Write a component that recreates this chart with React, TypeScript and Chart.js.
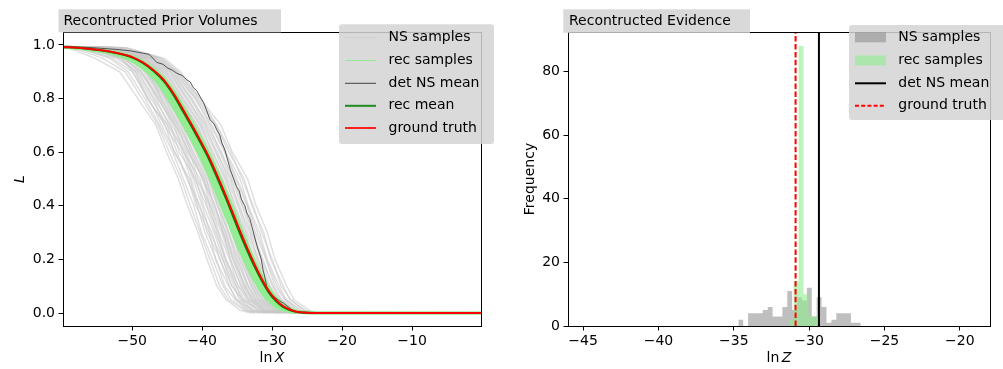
import React, { useEffect, useRef } from "react";
import { Chart, registerables } from "chart.js";

Chart.register(...registerables);

const FONT = "'DejaVu Sans', sans-serif";

// ---------------- Left panel data: Reconstructed Prior Volumes ----------------
const LEFT_X_MIN = -59.9;
const LEFT_X_MAX = -0.15;
const LEFT_Y_MIN = -0.0485;
const LEFT_Y_MAX = 1.0485;
const LEFT_X_TICKS = [-50, -40, -30, -20, -10];
const LEFT_Y_TICKS = [0, 0.2, 0.4, 0.6, 0.8, 1.0];

// NS sample curves: lnX at which each sample crosses these L levels
const NS_START_LNX = -59.9;
const NS_START_L = 0.995;
const NS_L_LEVELS = [0.99, 0.95, 0.9, 0.8, 0.7, 0.6, 0.5, 0.4, 0.3, 0.2, 0.1, 0.05, 0.01, 0];
const NS_SAMPLES_LNX: number[][] = [
  [-59.2, -55.3, -51.8, -49.2, -46.6, -45.1, -43.4, -42.1, -40.6, -39.3, -37.9, -36.6, -34.6, -33.0],
  [-58.0, -53.2, -50.6, -48.2, -46.1, -44.2, -42.7, -41.2, -40.1, -38.5, -37.0, -35.9, -33.7, -32.4],
  [-56.8, -51.6, -49.9, -47.6, -45.8, -43.9, -42.0, -40.9, -39.0, -38.1, -36.2, -35.0, -33.3, -31.6],
  [-58.0, -52.2, -49.5, -47.9, -45.0, -43.6, -42.2, -40.3, -39.3, -37.4, -36.1, -35.2, -32.8, -31.0],
  [-56.2, -51.9, -49.3, -47.0, -45.4, -42.9, -41.6, -40.5, -38.6, -37.5, -35.7, -34.4, -32.9, -31.2],
  [-55.5, -51.0, -49.1, -46.9, -44.5, -43.3, -40.9, -39.8, -38.3, -37.0, -35.8, -34.1, -32.3, -30.4],
  [-57.2, -51.3, -48.7, -46.6, -44.7, -42.4, -41.1, -39.4, -38.1, -36.6, -35.1, -34.3, -31.8, -30.5],
  [-56.0, -50.7, -48.6, -46.3, -44.0, -42.7, -40.3, -39.3, -37.7, -36.6, -34.8, -33.6, -32.0, -29.8],
  [-54.8, -50.4, -48.3, -46.4, -43.8, -41.8, -40.6, -38.8, -37.6, -36.1, -34.9, -33.3, -31.4, -29.9],
  [-55.8, -50.2, -48.0, -45.8, -43.9, -42.0, -39.9, -38.9, -37.2, -36.0, -34.4, -33.4, -31.2, -29.4],
  [-54.5, -50.6, -47.9, -45.5, -43.1, -41.6, -40.0, -38.1, -37.1, -35.6, -34.2, -32.9, -31.1, -29.1],
  [-56.5, -49.8, -47.7, -45.8, -43.3, -41.2, -39.4, -38.4, -36.6, -35.6, -33.8, -32.9, -30.7, -29.1],
  [-55.2, -49.9, -47.5, -45.1, -42.9, -41.3, -39.5, -37.8, -36.7, -35.2, -33.9, -32.5, -30.7, -28.7],
  [-54.0, -49.5, -47.4, -45.2, -42.6, -40.8, -39.0, -37.8, -36.2, -35.1, -33.4, -32.4, -30.2, -28.6],
  [-55.5, -49.9, -47.3, -44.8, -42.6, -40.6, -39.0, -37.4, -36.2, -34.7, -33.4, -32.0, -30.2, -28.2],
  [-53.8, -49.2, -46.9, -44.7, -42.1, -40.5, -38.5, -37.3, -35.7, -34.6, -32.9, -31.9, -29.7, -28.1],
  [-55.0, -49.0, -46.9, -44.4, -42.1, -40.0, -38.5, -36.9, -35.7, -34.2, -32.9, -31.5, -29.7, -27.7],
  [-54.2, -48.7, -46.5, -44.3, -41.8, -40.1, -38.1, -37.0, -35.2, -34.2, -32.5, -31.5, -29.3, -27.6],
  [-53.5, -48.8, -46.6, -43.9, -41.7, -39.6, -38.1, -36.5, -35.3, -33.8, -32.5, -31.1, -29.3, -27.2],
  [-54.6, -48.4, -46.1, -43.8, -41.2, -39.6, -37.6, -36.4, -34.8, -33.7, -32.0, -31.0, -28.8, -27.1],
  [-53.0, -48.3, -46.1, -43.4, -41.2, -39.2, -37.6, -36.0, -34.8, -33.3, -32.0, -30.6, -28.8, -26.7],
  [-54.0, -47.9, -45.7, -43.3, -40.7, -39.1, -37.1, -35.9, -34.3, -33.2, -31.5, -30.5, -28.3, -26.6],
  [-52.8, -48.2, -45.6, -42.9, -40.7, -38.7, -37.1, -35.5, -34.3, -32.8, -31.5, -30.1, -28.3, -26.2],
  [-53.6, -47.5, -45.2, -42.8, -40.2, -38.6, -36.6, -35.4, -33.8, -32.7, -31.0, -30.0, -27.8, -26.1],
  [-52.5, -47.6, -45.1, -42.3, -40.1, -38.1, -36.5, -34.9, -33.7, -32.2, -30.9, -29.5, -27.7, -25.6],
  [-53.2, -47.1, -44.6, -42.2, -39.6, -38.0, -36.0, -34.8, -33.2, -32.1, -30.4, -29.4, -27.2, -25.5],
  [-52.2, -47.1, -44.6, -41.7, -39.5, -37.5, -35.9, -34.3, -33.1, -31.6, -30.3, -28.9, -27.1, -25.0],
  [-52.8, -46.6, -44.2, -41.6, -39.0, -37.4, -35.4, -34.2, -32.6, -31.5, -29.8, -28.8, -26.6, -24.9],
  [-51.8, -46.6, -44.1, -41.0, -38.8, -36.8, -35.2, -33.6, -32.4, -30.9, -29.6, -28.2, -26.4, -24.3],
  [-52.0, -46.1, -43.7, -40.8, -38.2, -36.6, -34.6, -33.4, -31.8, -30.7, -29.0, -28.0, -25.8, -24.1],
  [-51.2, -45.9, -43.6, -40.3, -37.9, -35.9, -34.3, -32.7, -31.5, -30.0, -28.7, -27.3, -25.5, -23.4],
  [-50.8, -45.4, -43.1, -40.3, -37.3, -35.7, -33.5, -32.3, -30.7, -29.6, -27.9, -26.9, -24.7, -23.1],
  [-57.8, -52.8, -50.0, -47.8, -45.3, -44.0, -41.8, -40.7, -39.6, -38.0, -36.8, -35.3, -33.5, -31.9],
  [-56.3, -51.4, -49.6, -47.3, -44.9, -42.6, -41.3, -40.0, -38.9, -37.1, -35.4, -34.7, -32.6, -30.8],
  [-55.9, -51.1, -48.9, -46.1, -44.3, -42.2, -40.8, -39.0, -37.9, -36.8, -35.2, -33.9, -31.6, -30.1],
  [-54.6, -50.3, -48.1, -46.0, -43.6, -41.9, -39.8, -38.6, -37.0, -35.9, -34.5, -33.1, -31.3, -29.3],
  [-55.3, -50.0, -47.8, -45.3, -43.5, -41.5, -39.7, -38.2, -36.9, -35.4, -34.0, -32.7, -30.9, -28.9],
  [-54.4, -49.6, -47.1, -45.0, -42.8, -40.9, -39.2, -37.6, -36.4, -34.9, -33.6, -32.2, -30.4, -28.4],
  [-53.9, -49.4, -47.2, -44.6, -42.3, -40.3, -38.8, -37.1, -35.9, -34.4, -33.1, -31.8, -29.9, -27.9],
  [-54.9, -48.9, -46.7, -44.1, -42.0, -39.9, -38.3, -36.7, -35.5, -34.0, -32.7, -31.3, -29.5, -27.4],
  [-53.3, -48.6, -46.3, -43.6, -41.4, -39.4, -37.8, -36.2, -35.0, -33.5, -32.2, -30.8, -29.0, -26.9],
  [-53.7, -48.1, -45.9, -43.1, -40.9, -38.9, -37.3, -35.7, -34.5, -33.0, -31.7, -30.3, -28.5, -26.4],
  [-52.6, -47.8, -45.4, -42.6, -40.4, -38.4, -36.8, -35.2, -34.0, -32.5, -31.2, -29.8, -28.0, -25.9],
  [-53.1, -47.3, -44.9, -42.0, -39.9, -37.8, -36.3, -34.6, -33.5, -31.9, -30.6, -29.2, -27.4, -25.3],
  [-52.0, -46.9, -44.4, -41.4, -39.3, -37.2, -35.7, -34.0, -32.9, -31.3, -30.0, -28.6, -26.8, -24.7],
  [-51.5, -46.3, -43.9, -41.0, -38.6, -36.7, -35.0, -33.5, -32.1, -30.8, -29.3, -28.1, -26.1, -24.2],
  [-50.9, -45.7, -43.4, -40.6, -38.0, -36.2, -34.0, -32.9, -31.2, -30.2, -28.4, -27.5, -25.2, -23.6],
  [-58.6, -54.2, -51.0, -48.6, -46.3, -44.7, -43.0, -41.7, -40.3, -38.9, -37.5, -36.3, -34.0, -32.6],
];

// Ground truth / reconstructed curves on a common lnX grid
const GT_LNX = [-59.9, -57, -54.6, -52, -50, -48.5, -47, -45.5, -44, -42.7, -41.5, -40.3, -39, -37.8, -36.5, -35.5, -34.5, -33.5, -32.5, -31.5, -30.5, -29.5, -28.5, -27.5, -26.5, -25.5, -24, -0.15];
const GT_L = [0.993, 0.988, 0.981, 0.969, 0.955, 0.935, 0.907, 0.870, 0.815, 0.757, 0.702, 0.645, 0.580, 0.510, 0.430, 0.365, 0.300, 0.238, 0.180, 0.128, 0.083, 0.050, 0.027, 0.013, 0.005, 0.002, 0, 0];
const REC_MEAN_L = [0.993, 0.9875, 0.980, 0.968, 0.953, 0.933, 0.904, 0.865, 0.809, 0.750, 0.695, 0.638, 0.572, 0.501, 0.421, 0.355, 0.290, 0.229, 0.172, 0.121, 0.077, 0.046, 0.024, 0.011, 0.004, 0.0017, 0, 0];
const REC_SAMPLES_L: number[][] = [
  [0.991, 0.9845, 0.9755, 0.961, 0.939, 0.913, 0.877, 0.826, 0.761, 0.702, 0.645, 0.585, 0.510, 0.436, 0.352, 0.288, 0.226, 0.170, 0.119, 0.076, 0.045, 0.024, 0.011, 0.004, 0.0017, 0.0004, 0, 0],
  [0.992, 0.9857, 0.977, 0.963, 0.944, 0.920, 0.887, 0.841, 0.779, 0.720, 0.664, 0.605, 0.533, 0.461, 0.378, 0.313, 0.250, 0.192, 0.138, 0.092, 0.057, 0.032, 0.016, 0.0066, 0.0026, 0.0009, 0, 0],
  [0.9923, 0.9868, 0.979, 0.966, 0.950, 0.928, 0.897, 0.855, 0.797, 0.739, 0.683, 0.625, 0.557, 0.485, 0.404, 0.339, 0.275, 0.215, 0.159, 0.110, 0.070, 0.041, 0.021, 0.010, 0.004, 0.0015, 0, 0],
  [0.993, 0.9885, 0.982, 0.971, 0.957, 0.939, 0.913, 0.877, 0.826, 0.770, 0.716, 0.659, 0.595, 0.527, 0.448, 0.385, 0.319, 0.255, 0.196, 0.142, 0.095, 0.059, 0.034, 0.017, 0.0074, 0.0029, 0.0004, 0],
];

// Deterministic NS mean (stair-like)
const DET_NS_LNX = [-59.9, -57.0, -54.6, -52.0, -50.2, -48.4, -47.6, -47.2, -46.5, -45.6, -45.0, -44.2, -43.6, -42.9, -42.2, -41.7, -41.3, -40.8, -40.3, -39.8, -39.4, -38.9, -38.3, -37.9, -37.5, -37.2, -36.8, -36.5, -36.0, -35.6, -35.1, -34.7, -34.4, -33.9, -33.6, -33.2, -32.9, -32.4, -32.0, -31.6, -31.3, -31.0, -30.8, -30.3, -29.8, -29.1, -28.4, -27.8, -27.2, -26.5, -25.5, -0.15];
const DET_NS_L = [0.994, 0.992, 0.988, 0.983, 0.978, 0.969, 0.965, 0.955, 0.935, 0.928, 0.915, 0.905, 0.894, 0.887, 0.870, 0.862, 0.842, 0.830, 0.807, 0.785, 0.758, 0.722, 0.705, 0.683, 0.665, 0.635, 0.612, 0.584, 0.536, 0.507, 0.472, 0.455, 0.425, 0.400, 0.373, 0.352, 0.323, 0.272, 0.236, 0.205, 0.161, 0.128, 0.099, 0.075, 0.062, 0.048, 0.037, 0.025, 0.012, 0.003, 0, 0];

// ---------------- Right panel data: Reconstructed Evidence ----------------
const RIGHT_X_MIN = -46.0;
const RIGHT_X_MAX = -18.0;
const RIGHT_Y_MIN = 0;
const RIGHT_Y_MAX = 92.4;
const RIGHT_X_TICKS = [-45, -40, -35, -30, -25, -20];
const RIGHT_Y_TICKS = [0, 20, 40, 60, 80];

const NS_EDGES = [-34.7, -34.375, -34.05, -33.725, -33.4, -33.075, -32.75, -32.425, -32.1, -31.775, -31.45, -31.125, -30.8, -30.475, -30.15, -29.825, -29.5, -29.175, -28.85, -28.525, -28.2, -27.875, -27.55, -27.225, -26.9, -26.575];
const NS_COUNTS = [2, 0, 4, 4, 4, 5, 6, 3, 3, 6, 11, 5, 9, 8, 12, 3, 9, 6, 1, 2, 4, 4, 4, 1, 1];
const REC_EDGES = [-31.36, -31.03, -30.7, -30.37, -30.04, -29.71, -29.38];
const REC_COUNTS = [2, 14, 88, 10, 3, 3];
const DET_NS_LNZ = -29.35;
const GT_LNZ = -30.9;

// ---------------- helpers ----------------
const fmtMinus = (v: number, digits = 0) => {
  const s = Math.abs(v).toFixed(digits);
  return v < 0 ? "\u2212" + s : s;
};

const zipXY = (xs: number[], ys: number[]) =>
  xs.slice(0, Math.min(xs.length, ys.length)).map((x, i) => ({ x, y: ys[i] }));

const histPoints = (edges: number[], counts: number[]) => {
  const pts = counts.map((c, i) => ({ x: edges[i], y: c }));
  pts.push({ x: edges[counts.length], y: counts[counts.length - 1] });
  return pts;
};

function xAxis(min: number, max: number, ticks: number[], height: number, digits: number) {
  return {
    type: "linear",
    min,
    max,
    afterBuildTicks: (s: any) => {
      s.ticks = ticks.map((v) => ({ value: v }));
    },
    afterFit: (s: any) => {
      s.height = height;
    },
    grid: { display: true, drawOnChartArea: false, drawTicks: true, tickLength: 4.5, tickWidth: 1, tickColor: "#000" },
    border: { display: false },
    ticks: {
      autoSkip: false,
      maxRotation: 0,
      padding: 2,
      color: "#000",
      font: { family: FONT, size: 14 },
      callback: (v: any) => fmtMinus(Number(v), digits),
    },
  };
}

function yAxis(min: number, max: number, ticks: number[], width: number, digits: number) {
  return {
    type: "linear",
    min,
    max,
    afterBuildTicks: (s: any) => {
      s.ticks = ticks.map((v) => ({ value: v }));
    },
    afterFit: (s: any) => {
      s.width = width;
    },
    grid: { display: true, drawOnChartArea: false, drawTicks: true, tickLength: 4.5, tickWidth: 1, tickColor: "#000" },
    border: { display: false },
    ticks: {
      autoSkip: false,
      padding: 3.5,
      color: "#000",
      font: { family: FONT, size: 14 },
      callback: (v: any) => fmtMinus(Number(v), digits),
    },
  };
}

type LegendItem = { label: string; kind: "line" | "patch"; color: string; width?: number; dash?: number[] };

type OverlayCfg = {
  title: string;
  titleBox: [number, number, number, number];
  titleTextX: number;
  legendBox: [number, number, number, number];
  legendItems: LegendItem[];
  handleX: [number, number];
  textX: number;
  rowY: number[];
  xLabel: [string, string];
  yLabel: string;
  yLabelItalic: boolean;
  yLabelX: number;
};

function overlayPlugin(cfg: OverlayCfg) {
  return {
    id: "overlay",
    afterDatasetsDraw(chart: any) {
      const { ctx, chartArea } = chart;
      ctx.save();
      ctx.strokeStyle = "#000";
      ctx.lineWidth = 1;
      ctx.strokeRect(
        Math.round(chartArea.left) + 0.5,
        Math.round(chartArea.top) + 0.5,
        Math.round(chartArea.right - chartArea.left),
        Math.round(chartArea.bottom - chartArea.top)
      );
      ctx.restore();
    },
    afterDraw(chart: any) {
      const { ctx, chartArea } = chart;
      ctx.save();
      // axis labels
      const cx = (chartArea.left + chartArea.right) / 2;
      const cy = (chartArea.top + chartArea.bottom) / 2;
      ctx.fillStyle = "#000";
      ctx.textBaseline = "middle";
      ctx.font = `14px ${FONT}`;
      const w1 = ctx.measureText(cfg.xLabel[0]).width;
      ctx.font = `italic 14px ${FONT}`;
      const w2 = ctx.measureText(cfg.xLabel[1]).width;
      const gap = 2.5;
      const startX = cx - (w1 + gap + w2) / 2;
      ctx.textAlign = "left";
      ctx.font = `14px ${FONT}`;
      ctx.fillText(cfg.xLabel[0], startX, 358);
      ctx.font = `italic 14px ${FONT}`;
      ctx.fillText(cfg.xLabel[1], startX + w1 + gap, 358);

      ctx.save();
      ctx.translate(cfg.yLabelX, cy);
      ctx.rotate(-Math.PI / 2);
      ctx.textAlign = "center";
      ctx.font = cfg.yLabelItalic ? `italic 14px ${FONT}` : `14px ${FONT}`;
      ctx.fillText(cfg.yLabel, 0, 0);
      ctx.restore();

      // title box
      const [tx, ty, tw, th] = cfg.titleBox;
      ctx.fillStyle = "#d9d9d9";
      ctx.fillRect(tx, ty, tw, th);
      ctx.fillStyle = "#000";
      ctx.font = `14px ${FONT}`;
      ctx.textAlign = "left";
      ctx.fillText(cfg.title, cfg.titleTextX, ty + th / 2 + 0.5);

      // legend
      const [lx, ly, lw, lh] = cfg.legendBox;
      ctx.fillStyle = "rgba(211,211,211,0.85)";
      ctx.beginPath();
      (ctx as any).roundRect(lx, ly, lw, lh, 3);
      ctx.fill();
      cfg.legendItems.forEach((it, i) => {
        const y = cfg.rowY[i];
        if (it.kind === "patch") {
          ctx.fillStyle = it.color;
          ctx.fillRect(cfg.handleX[0], y - 5, cfg.handleX[1] - cfg.handleX[0], 10);
        } else {
          ctx.strokeStyle = it.color;
          ctx.lineWidth = it.width || 1;
          ctx.setLineDash(it.dash || []);
          ctx.beginPath();
          ctx.moveTo(cfg.handleX[0], y);
          ctx.lineTo(cfg.handleX[1], y);
          ctx.stroke();
          ctx.setLineDash([]);
        }
        ctx.fillStyle = "#000";
        ctx.font = `14px ${FONT}`;
        ctx.textAlign = "left";
        ctx.textBaseline = "middle";
        ctx.fillText(it.label, cfg.textX, y);
      });
      ctx.restore();
    },
  };
}

function leftConfig(): any {
  const nsDatasets = NS_SAMPLES_LNX.map((xs) => ({
    data: [{ x: NS_START_LNX, y: NS_START_L }, ...zipXY(xs, NS_L_LEVELS)],
    borderColor: "rgba(200,200,200,0.6)",
    borderWidth: 1.4,
    pointRadius: 0,
    tension: 0,
    order: 5,
  }));
  const recDatasets = REC_SAMPLES_L.map((ys) => ({
    data: zipXY(GT_LNX, ys),
    borderColor: "#90ee90",
    borderWidth: 2.6,
    pointRadius: 0,
    cubicInterpolationMode: "monotone",
    order: 4,
  }));
  return {
    type: "line",
    data: {
      datasets: [
        ...nsDatasets,
        ...recDatasets,
        {
          data: zipXY(DET_NS_LNX, DET_NS_L),
          borderColor: "rgba(50,50,50,0.8)",
          borderWidth: 1,
          pointRadius: 0,
          tension: 0,
          order: 3,
        },
        {
          data: zipXY(GT_LNX, REC_MEAN_L),
          borderColor: "#008000",
          borderWidth: 2,
          pointRadius: 0,
          cubicInterpolationMode: "monotone",
          order: 2,
        },
        {
          data: zipXY(GT_LNX, GT_L),
          borderColor: "#ff0000",
          borderWidth: 2,
          pointRadius: 0,
          cubicInterpolationMode: "monotone",
          order: 1,
        },
      ],
    },
    options: {
      animation: false,
      responsive: false,
      events: [],
      layout: { padding: { left: 0, right: 19, top: 32, bottom: 0 } },
      plugins: { legend: { display: false }, tooltip: { enabled: false }, title: { display: false } },
      scales: {
        x: xAxis(LEFT_X_MIN, LEFT_X_MAX, LEFT_X_TICKS, 43, 0),
        y: yAxis(LEFT_Y_MIN, LEFT_Y_MAX, LEFT_Y_TICKS, 63, 1),
      },
    },
    plugins: [
      overlayPlugin({
        title: "Recontructed Prior Volumes",
        titleBox: [58.5, 9.3, 222.5, 23],
        titleTextX: 63.5,
        legendBox: [339, 24.3, 155, 119.7],
        legendItems: [
          { label: "NS samples", kind: "line", color: "#cfcfcf", width: 1 },
          { label: "rec samples", kind: "line", color: "#90ee90", width: 1 },
          { label: "det NS mean", kind: "line", color: "#404040", width: 1 },
          { label: "rec mean", kind: "line", color: "#1f8a1f", width: 2 },
          { label: "ground truth", kind: "line", color: "#ff2020", width: 2 },
        ],
        handleX: [345, 376],
        textX: 388.5,
        rowY: [37.3, 60.5, 83.3, 105.8, 128],
        xLabel: ["ln", "X"],
        yLabel: "L",
        yLabelItalic: true,
        yLabelX: 20.5,
      }),
    ],
  };
}

function rightConfig(): any {
  return {
    type: "line",
    data: {
      datasets: [
        {
          data: histPoints(NS_EDGES, NS_COUNTS),
          borderWidth: 0,
          borderColor: "rgba(0,0,0,0)",
          backgroundColor: "rgba(128,128,128,0.5)",
          fill: "origin",
          stepped: "before",
          pointRadius: 0,
          order: 4,
        },
        {
          data: histPoints(REC_EDGES, REC_COUNTS),
          borderWidth: 0,
          borderColor: "rgba(0,0,0,0)",
          backgroundColor: "rgba(144,238,144,0.6)",
          fill: "origin",
          stepped: "before",
          pointRadius: 0,
          order: 3,
        },
        {
          data: [
            { x: DET_NS_LNZ, y: RIGHT_Y_MIN },
            { x: DET_NS_LNZ, y: RIGHT_Y_MAX },
          ],
          borderColor: "#000",
          borderWidth: 2,
          pointRadius: 0,
          order: 2,
        },
        {
          data: [
            { x: GT_LNZ, y: RIGHT_Y_MIN },
            { x: GT_LNZ, y: RIGHT_Y_MAX },
          ],
          borderColor: "#ff0000",
          borderWidth: 2,
          borderDash: [5.5, 2.4],
          pointRadius: 0,
          order: 1,
        },
      ],
    },
    options: {
      animation: false,
      responsive: false,
      events: [],
      layout: { padding: { left: 0, right: 13, top: 32, bottom: 0 } },
      plugins: { legend: { display: false }, tooltip: { enabled: false }, title: { display: false } },
      scales: {
        x: xAxis(RIGHT_X_MIN, RIGHT_X_MAX, RIGHT_X_TICKS, 43, 0),
        y: yAxis(RIGHT_Y_MIN, RIGHT_Y_MAX, RIGHT_Y_TICKS, 68, 0),
      },
    },
    plugins: [
      overlayPlugin({
        title: "Recontructed Evidence",
        titleBox: [63.3, 9.3, 186.7, 23.5],
        titleTextX: 69,
        legendBox: [349, 25, 170, 95],
        legendItems: [
          { label: "NS samples", kind: "patch", color: "rgba(128,128,128,0.5)" },
          { label: "rec samples", kind: "patch", color: "rgba(144,238,144,0.6)" },
          { label: "det NS mean", kind: "line", color: "#000", width: 2 },
          { label: "ground truth", kind: "line", color: "#ff0000", width: 2, dash: [4, 2.2] },
        ],
        handleX: [355, 386],
        textX: 398.3,
        rowY: [37.3, 60.5, 83.3, 105.7],
        xLabel: ["ln", "Z"],
        yLabel: "Frequency",
        yLabelItalic: false,
        yLabelX: 30,
      }),
    ],
  };
}

export default function App() {
  const leftRef = useRef<HTMLCanvasElement>(null);
  const rightRef = useRef<HTMLCanvasElement>(null);

  useEffect(() => {
    const c1 = new Chart(leftRef.current as HTMLCanvasElement, leftConfig());
    const c2 = new Chart(rightRef.current as HTMLCanvasElement, rightConfig());
    return () => {
      c1.destroy();
      c2.destroy();
    };
  }, []);

  return (
    <div
      style={{
        position: "absolute",
        left: 0,
        top: 0,
        width: 1003,
        height: 369,
        background: "#fff",
        overflow: "hidden",
      }}
    >
      <canvas ref={leftRef} width={500} height={369} style={{ position: "absolute", left: 0, top: 0, width: 500, height: 369 }} />
      <canvas ref={rightRef} width={503} height={369} style={{ position: "absolute", left: 500, top: 0, width: 503, height: 369 }} />
    </div>
  );
}
